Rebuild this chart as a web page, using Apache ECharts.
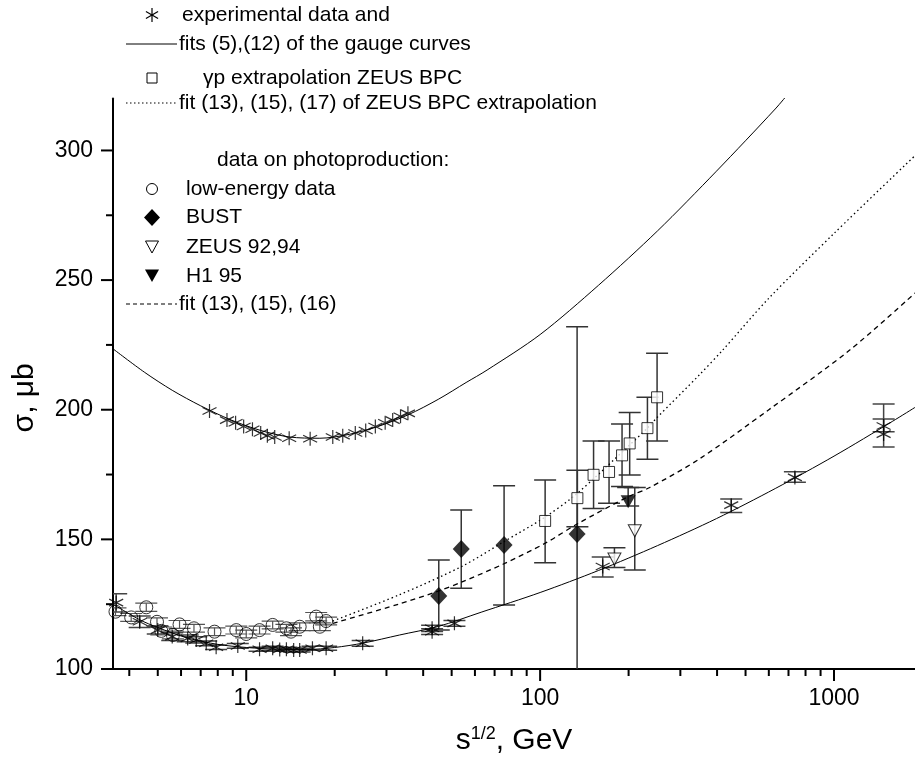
<!DOCTYPE html>
<html><head><meta charset="utf-8">
<script src="https://cdn.jsdelivr.net/npm/echarts@6/dist/echarts.min.js"></script>
<style>html,body{margin:0;padding:0;background:#fff}#c{width:915px;height:761px}</style>
</head><body><div id="c"></div>
<script>
// ---------- data ----------
const xMin = 3.521, xMax = 1886;
const xLabelValues = [10, 100, 1000];
const xMinorTicks = [4,5,6,7,8,9,20,30,40,50,60,70,80,90,200,300,400,500,600,700,800,900];
const yMajorTicks = [100,150,200,250,300];
const yMinorTicks = [125,175,225,275];

// fit curves (solid: gauge curves)
const upperCurveX = [3.52, 4.5, 5.6, 7, 8.9, 11.2, 14, 17.8, 22.4, 28, 35.5, 45, 56, 66, 100, 158, 251, 398, 631, 700];
const upperCurveY = [223.5, 214.5, 207.5, 201.5, 196, 192, 189.5, 189, 190.5, 193.5, 198, 204, 210.5, 215.3, 229, 248, 269, 292, 316, 322];
const lowerCurveX = [3.52, 4.34, 5.0, 6.3, 8, 10, 13, 16, 20, 25, 33.2, 45, 63, 100, 158, 251, 398, 631, 1000, 1585, 1886];
const lowerCurveY = [125, 119, 116, 112, 109.5, 108.3, 107.6, 107.5, 108.3, 110, 113.1, 116.4, 121.9, 129.5, 138, 147.6, 158, 169.6, 182.1, 195.6, 200.9];
// fit (13),(15),(17) dotted
const dottedX = [19.7, 33, 54, 75, 104, 133, 200, 232, 250, 348, 418, 600, 1000, 1886];
const dottedY = [118.5, 128.5, 139.5, 149, 158.6, 167.5, 186, 193, 197, 213.4, 223, 243, 268, 298];
// fit (13),(15),(16) dashed
const dashedX = [19.7, 33, 45, 54, 75, 104, 134, 200, 236, 348, 600, 1131, 1886];
const dashedY = [117.6, 125, 130, 133.5, 140.5, 148.5, 156, 166.5, 170, 181, 200, 223, 245];

// experimental data (stars)
const upperStarX = [7.5, 8.6, 9.2, 9.8, 10.5, 11.2, 11.8, 12.5, 14, 16.5, 19.7, 21.3, 23.5, 25.5, 27.5, 29.7, 31.5, 33.5, 35.5];
const upperStarY = [199.5, 196, 195, 193.5, 192.5, 191, 190, 189.5, 189, 188.8, 189.5, 190, 191, 192, 193.5, 195, 196, 197.5, 198.6];
const lowerStarX = [3.61, 4.34, 5.0, 5.6, 6.32, 6.76, 7.31, 7.9, 9.36, 11.1, 12.3, 13.0, 13.7, 14.5, 15.2, 16.8, 18.7, 24.9, 42.9, 42.9, 51.1, 163.3, 447, 736, 1475, 1475];
const lowerStarY = [125.6, 118.2, 115, 112.5, 111.8, 111.2, 109.9, 108.4, 108.9, 107.6, 108.0, 107.5, 107.6, 107.3, 107.3, 108.0, 108.0, 109.9, 115.7, 114.4, 117.6, 139.5, 163.2, 173.9, 193.7, 190.6];
const lowerStarLo = [122, 116, 113.5, 111, 110.5, 110, 109, 107.5, 108, 106.8, 107.2, 106.8, 106.8, 106.6, 106.6, 107.2, 107.2, 108.8, 114.5, 113.3, 116.5, 135.5, 160.4, 172, 191.5, 185.6];
const lowerStarHi = [129, 120.4, 116.5, 114, 113.1, 112.4, 110.8, 109.3, 109.8, 108.4, 108.8, 108.2, 108.4, 108, 108, 108.8, 108.8, 111, 116.9, 115.5, 118.7, 143.2, 165.6, 176.1, 196.4, 202.2];

// low-energy photoproduction data (circles)
const lowEX = [3.59, 4.06, 4.57, 4.97, 5.14, 5.63, 5.93, 6.64, 7.8, 9.25, 10, 11.1, 12.3, 13.7, 14.2, 15.2, 17.3, 17.8, 18.7];
const lowEY = [122.1, 119.9, 123.8, 118.2, 114.7, 113.1, 117.2, 115.7, 114.4, 115.0, 113.5, 115.0, 117.0, 115.7, 114.4, 116.3, 120.2, 116.3, 118.5];
const lowEErr = [1.5, 1.5, 1.6, 1.5, 1.5, 1.5, 1.5, 1.5, 1.5, 1.5, 1.5, 1.5, 1.5, 1.5, 1.5, 1.5, 1.6, 1.5, 1.5];

// BUST (diamonds)
const bustX = [45.2, 53.9, 75.4, 133.6];
const bustY = [128.2, 146.3, 147.8, 152.1];
const bustLo = [115, 131.1, 124.7, 90];
const bustHi = [142.0, 161.3, 170.7, 232];

// gamma-p extrapolation ZEUS BPC (squares)
const bpcX = [104, 133.9, 152, 171.6, 190, 201.7, 231.8, 250];
const bpcY = [157.1, 165.9, 174.9, 176.0, 182.4, 187.0, 192.9, 204.8];
const bpcLo = [141.0, 154.9, 161.9, 163.9, 170.4, 174.8, 180.9, 187.9];
const bpcHi = [172.9, 176.7, 187.9, 187.9, 194.5, 198.9, 204.8, 221.8];

// ZEUS 92,94 (open down triangles)
const zeusX = [179, 209.9];
const zeusY = [142.4, 153.3];
const zeusLo = [139.1, 138.2];
const zeusHi = [146.8, 170.0];

// H1 95 (filled down triangle)
const h1X = [199.3];
const h1Y = [164.5];
const h1Lo = [162.9];
const h1Hi = [170.0];

// ---------- helpers ----------
const zip2 = (a, b) => a.map((v, i) => [v, b[i]]);
const zip3 = (a, b, c) => a.map((v, i) => [v, b[i], c[i]]);
const STAR = 'path://M0,-10L0,10M-8.66,-5L8.66,5M-8.66,5L8.66,-5';
const FONT = '"Liberation Sans", Arial, sans-serif';

function errRender(capHalf, color, width) {
  return function (params, api) {
    const x = api.value(0), lo = api.value(1), hi = api.value(2);
    const a = api.coord([x, lo]), b = api.coord([x, hi]);
    const st = { stroke: color, lineWidth: width };
    return { type: 'group', children: [
      { type: 'line', shape: { x1: a[0], y1: a[1], x2: b[0], y2: b[1] }, style: st },
      { type: 'line', shape: { x1: a[0] - capHalf, y1: a[1], x2: a[0] + capHalf, y2: a[1] }, style: st },
      { type: 'line', shape: { x1: b[0] - capHalf, y1: b[1], x2: b[0] + capHalf, y2: b[1] }, style: st }
    ]};
  };
}
function errSeries(x, lo, hi, cap, color, width) {
  return { type: 'custom', renderItem: errRender(cap, color, width), data: zip3(x, lo, hi),
    encode: { x: 0, y: [1, 2] }, clip: true, silent: true, z: 1 };
}
function tickSeries(vals, isX, len) {
  return { type: 'custom', clip: false, silent: true, z: 5,
    data: vals.map(v => [v]),
    encode: isX ? { x: 0 } : { y: 0 },
    renderItem: function (params, api) {
      const v = api.value(0);
      const p = isX ? api.coord([v, 100]) : api.coord([xMin, v]);
      const shape = isX ? { x1: p[0], y1: p[1], x2: p[0], y2: p[1] + len }
                        : { x1: p[0], y1: p[1], x2: p[0] - len, y2: p[1] };
      return { type: 'line', shape: shape, style: { stroke: '#000', lineWidth: 2 } };
    } };
}

const chart = echarts.init(document.getElementById('c'), null, { renderer: 'canvas' });

// legend (drawn as graphics)
const LX = 152, TX = 182;
function legText(x, y, t) {
  return { type: 'text', x: x, y: y, style: { text: t, fontSize: 21, fontFamily: FONT, fill: '#000', verticalAlign: 'middle', align: 'left' } };
}
function legLine(y, dash, w) {
  return { type: 'line', shape: { x1: 126, y1: y, x2: 177, y2: y }, style: { stroke: '#000', lineWidth: w, lineDash: dash } };
}
const graphic = [
  { type: 'group', x: LX, y: 15, children: [
    { type: 'line', shape: { x1: 0, y1: -7, x2: 0, y2: 7 }, style: { stroke: '#000', lineWidth: 1.2 } },
    { type: 'line', shape: { x1: -6.06, y1: -3.5, x2: 6.06, y2: 3.5 }, style: { stroke: '#000', lineWidth: 1.2 } },
    { type: 'line', shape: { x1: -6.06, y1: 3.5, x2: 6.06, y2: -3.5 }, style: { stroke: '#000', lineWidth: 1.2 } }
  ] },
  legText(TX, 15, 'experimental data and'),
  legLine(44, null, 1),
  legText(179, 44, 'fits (5),(12) of the gauge curves'),
  { type: 'rect', shape: { x: LX - 5, y: 73, width: 10, height: 10 }, style: { stroke: '#000', lineWidth: 1, fill: '#fff' } },
  legText(203, 78, 'γp extrapolation ZEUS BPC'),
  legLine(103, [1.5, 2.5], 1.2),
  legText(179, 103, 'fit (13), (15), (17) of ZEUS BPC extrapolation'),
  legText(217, 160, 'data on photoproduction:'),
  { type: 'circle', shape: { cx: LX, cy: 189, r: 5.5 }, style: { stroke: '#000', lineWidth: 1, fill: '#fff' } },
  legText(186, 189, 'low-energy data'),
  { type: 'polygon', shape: { points: [[LX, 209], [LX + 8, 217.5], [LX, 226], [LX - 8, 217.5]] }, style: { fill: '#000' } },
  legText(186, 217.5, 'BUST'),
  { type: 'polygon', shape: { points: [[LX - 6.5, 241], [LX + 6.5, 241], [LX, 253]] }, style: { stroke: '#000', lineWidth: 1, fill: '#fff' } },
  legText(186, 247, 'ZEUS 92,94'),
  { type: 'polygon', shape: { points: [[LX - 7, 269.5], [LX + 7, 269.5], [LX, 282]] }, style: { fill: '#000' } },
  legText(186, 276, 'H1 95'),
  legLine(304, [4, 3], 1.2),
  legText(179, 304, 'fit (13), (15), (16)')
];

const option = {
  animation: false,
  backgroundColor: '#fff',
  textStyle: { fontFamily: FONT },
  grid: { left: 113, right: 0, top: 98.6, bottom: 92, containLabel: false },
  xAxis: {
    type: 'log', logBase: 10, min: xMin, max: xMax,
    name: 's{sup|1/2}, GeV', nameLocation: 'middle', nameGap: 56,
    nameTextStyle: { fontSize: 30, color: '#000', fontFamily: FONT,
      rich: { sup: { fontSize: 18, verticalAlign: 'top', padding: [0, 0, 13, 0], color: '#000', fontFamily: FONT } } },
    axisLine: { show: true, lineStyle: { color: '#000', width: 2 } },
    axisTick: { show: false }, splitLine: { show: false }, minorTick: { show: false },
    axisLabel: { color: '#000', fontSize: 23, margin: 18, fontFamily: FONT,
      showMinLabel: false, showMaxLabel: false,
      formatter: v => (xLabelValues.some(t => Math.abs(t - v) / t < 1e-6) ? String(Math.round(v)) : '') }
  },
  yAxis: {
    type: 'value', min: 100, max: 320, interval: 50,
    name: 'σ, μb', nameLocation: 'middle', nameGap: 73, nameRotate: 90,
    nameTextStyle: { fontSize: 30, color: '#000', fontFamily: FONT, padding: [0, 28, 0, 0] },
    axisLine: { show: true, lineStyle: { color: '#000', width: 2 } },
    axisTick: { show: false }, splitLine: { show: false },
    axisLabel: { color: '#000', fontSize: 23, margin: 20, fontFamily: FONT, showMaxLabel: false,
      formatter: v => (yMajorTicks.includes(v) ? String(v) : '') }
  },
  graphic: graphic,
  series: [
    { name: 'upper fit', type: 'line', data: zip2(upperCurveX, upperCurveY), smooth: 0.3, showSymbol: false, symbol: 'none',
      lineStyle: { color: '#000', width: 1 }, z: 2, silent: true },
    { name: 'lower fit', type: 'line', data: zip2(lowerCurveX, lowerCurveY), smooth: 0.3, showSymbol: false, symbol: 'none',
      lineStyle: { color: '#000', width: 1 }, z: 2, silent: true },
    { name: 'dotted fit', type: 'line', data: zip2(dottedX, dottedY), smooth: 0.3, showSymbol: false, symbol: 'none',
      lineStyle: { color: '#000', width: 1.3, type: [1.5, 3] }, z: 2, silent: true },
    { name: 'dashed fit', type: 'line', data: zip2(dashedX, dashedY), smooth: 0.3, showSymbol: false, symbol: 'none',
      lineStyle: { color: '#000', width: 1.3, type: [5, 4] }, z: 2, silent: true },

    errSeries(lowerStarX, lowerStarLo, lowerStarHi, 11, '#444', 1.5),
    errSeries(lowEX, lowEY.map((v, i) => v - lowEErr[i]), lowEY.map((v, i) => v + lowEErr[i]), 11, '#555', 1.2),
    errSeries(bustX, bustLo, bustHi, 11, '#333', 1.5),
    errSeries(bpcX, bpcLo, bpcHi, 11, '#333', 1.5),
    errSeries(zeusX, zeusLo, zeusHi, 11, '#333', 1.5),
    errSeries(h1X, h1Lo, h1Hi, 11, '#333', 1.5),

    { name: 'upper stars', type: 'scatter', data: zip2(upperStarX, upperStarY), symbol: STAR, symbolSize: 14,
      itemStyle: { color: 'none', borderColor: '#000', borderWidth: 1.2 }, z: 3 },
    { name: 'lower stars', type: 'scatter', data: zip2(lowerStarX, lowerStarY), symbol: STAR, symbolSize: 14,
      itemStyle: { color: 'none', borderColor: '#000', borderWidth: 1.2 }, z: 3 },
    { name: 'low-energy data', type: 'scatter', data: zip2(lowEX, lowEY), symbol: 'circle', symbolSize: 13,
      itemStyle: { color: 'rgba(255,255,255,0)', borderColor: '#000', borderWidth: 1 }, z: 3 },
    { name: 'BUST', type: 'scatter', data: zip2(bustX, bustY), symbol: 'diamond', symbolSize: [17, 18],
      itemStyle: { color: '#000' }, z: 4 },
    { name: 'ZEUS BPC', type: 'scatter', data: zip2(bpcX, bpcY), symbol: 'rect', symbolSize: 11,
      itemStyle: { color: '#fff', borderColor: '#000', borderWidth: 1 }, z: 4 },
    { name: 'ZEUS 92,94', type: 'scatter', data: zip2(zeusX, zeusY), symbol: 'triangle', symbolRotate: 180, symbolSize: [13, 12],
      itemStyle: { color: '#fff', borderColor: '#000', borderWidth: 1 }, z: 4 },
    { name: 'H1 95', type: 'scatter', data: zip2(h1X, h1Y), symbol: 'triangle', symbolRotate: 180, symbolSize: [15, 13],
      itemStyle: { color: '#000' }, z: 4 },

    tickSeries(xLabelValues, true, 12),
    tickSeries(xMinorTicks, true, 7),
    tickSeries(yMajorTicks, false, 12),
    tickSeries(yMinorTicks, false, 7)
  ]
};
chart.setOption(option);
</script>
</body></html>
